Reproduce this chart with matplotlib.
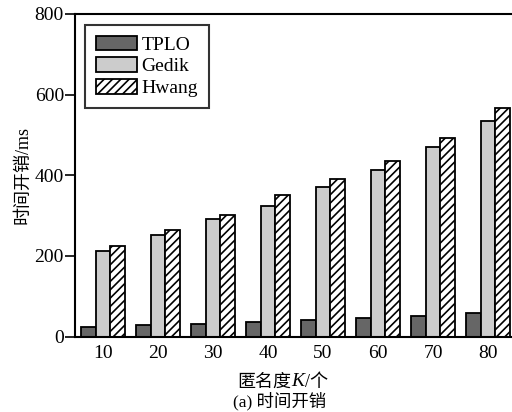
import matplotlib
matplotlib.use("Agg")
import matplotlib.pyplot as plt
import numpy as np

plt.rcParams['font.family'] = ['Liberation Serif', 'Noto Sans CJK SC']
plt.rcParams['hatch.linewidth'] = 1.2

k_labels = ['10', '20', '30', '40', '50', '60', '70', '80']
tplo = [24, 28, 32, 36, 40, 45, 51, 58]
gedik = [213, 251, 291, 324, 372, 412, 469, 535]
hwang = [225, 263, 301, 352, 390, 436, 492, 568]

fig = plt.figure(figsize=(5.12, 4.12), dpi=100)
W, H = 512, 412
left, right, top, bottom = 75, 515, 14, 336.5
ax = fig.add_axes([left / W, 1 - bottom / H, (right - left) / W, (bottom - top) / H])

x = np.arange(len(k_labels))
w = 0.27
kw = dict(edgecolor='black', linewidth=1.3)
ax.bar(x - w, tplo, w, color='#666666', label='TPLO', **kw)
ax.bar(x, gedik, w, color='#cccccc', label='Gedik', **kw)
ax.bar(x + w, hwang, w, color='white', hatch='////', label='Hwang', **kw)

ax.set_xlim(-0.51, 7.49)
ax.set_ylim(0, 800)
ax.set_xticks(x)
ax.set_xticklabels(k_labels)
ax.set_yticks([0, 200, 400, 600, 800])
ax.tick_params(axis='x', length=0, pad=6, labelsize=14)
ax.tick_params(axis='y', length=7, width=1.2, labelsize=14, direction='out', pad=1)
for s in ax.spines.values():
    s.set_linewidth(1.5)
ax.spines['right'].set_visible(False)

ax.set_ylabel('时间开销/ms', fontsize=13, labelpad=2)

# x-axis title built from pieces so the italic K sits between CJK text
fs = 13
t1 = fig.text(237 / W, 1 - 382 / H, '匿名度', ha='left', va='center', fontsize=fs)
t2 = ax.annotate('K', xy=(1, 0.5), xycoords=t1, xytext=(0.5, 0), textcoords='offset points',
                 ha='left', va='center', fontsize=fs + 1, style='italic')
ax.annotate('/个', xy=(1, 0.5), xycoords=t2, xytext=(0.5, 0), textcoords='offset points',
            ha='left', va='center', fontsize=fs)
fig.text(280 / W, 1 - 401 / H, '(a) 时间开销', ha='center', va='center', fontsize=fs - 0.5)

leg = ax.legend(loc='upper left', bbox_to_anchor=(10 / (right - left), 1 - 11 / (bottom - top)),
                fontsize=14, frameon=True, fancybox=False, edgecolor='black',
                handlelength=2.1, handleheight=0.75, handletextpad=0.25,
                borderpad=0.55, labelspacing=0.2, borderaxespad=0)
leg.get_frame().set_linewidth(1.5)

fig.savefig('out.png', dpi=100)
